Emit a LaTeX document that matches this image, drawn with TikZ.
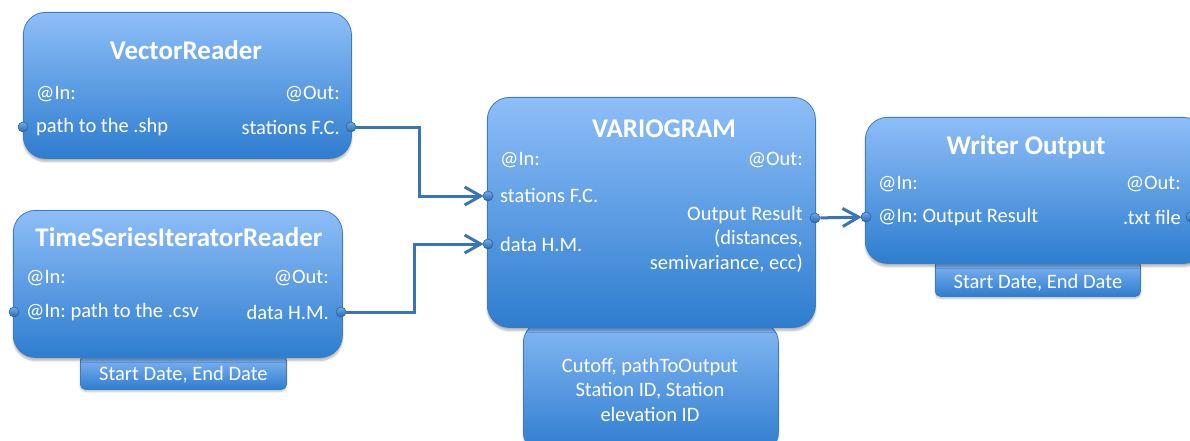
\documentclass[tikz,border=0pt]{standalone}
\usepackage{fontspec}
\setmainfont{Carlito}
\frenchspacing
\usetikzlibrary{arrows.meta,calc,shadows.blur}

\definecolor{boxtop}{HTML}{8EBEF8}
\definecolor{boxbot}{HTML}{2E7DCF}
\definecolor{boxline}{HTML}{3A7CC2}
\definecolor{wire}{HTML}{3874B6}

\tikzset{
  block/.style={draw=boxline, line width=0.8pt, top color=boxtop, bottom color=boxbot,
    rounded corners=22pt, inner sep=0pt, anchor=north west,
    blur shadow={shadow xshift=0pt, shadow yshift=-3pt, shadow blur steps=6, shadow opacity=30}},
  parambox/.style={draw=boxline, line width=0.8pt, top color=boxtop!90!boxbot, bottom color=boxbot,
    rounded corners=5pt, inner sep=0pt, anchor=north west,
    blur shadow={shadow xshift=0pt, shadow yshift=-2pt, shadow blur steps=4, shadow opacity=25}},
  title/.style={text=white, font=\fontsize{27}{30}\selectfont\bfseries, inner sep=0pt},
  lbl/.style={text=white, font=\fontsize{20.5}{24.5}\selectfont, inner sep=0pt},
  port/.style={circle, minimum size=10pt, inner sep=0pt, draw=boxline!80!black, line width=0.6pt,
    top color=boxtop!70!boxbot, bottom color=boxbot!85!black},
  conn/.style={draw=wire, line width=3pt, rounded corners=0pt},
  arr/.style={conn, -{Straight Barb[length=16pt,width=18pt,line width=3pt]}, shorten >=-1pt}
}

\begin{document}
\begin{tikzpicture}[x=1pt,y=-1pt]
\useasboundingbox (0,0) rectangle (1190,441);
\clip (0,0) rectangle (1190,441);

% parameter boxes sit underneath their blocks
\node[parambox, minimum width=206pt, minimum height=34pt] (tsp) at (80,355) {};
\node[lbl] at ($(tsp.center)+(0,2)$) {Start Date, End Date};
\node[parambox, rounded corners=20pt, minimum width=255pt, minimum height=130pt] (vgp) at (523,322) {};
\node[lbl, align=center, anchor=north] at (650,358) {Cutoff, pathToOutput\\Station ID, Station\\elevation ID};
\node[parambox, minimum width=205pt, minimum height=36pt] (wop) at (935,260) {};
\node[lbl] at ($(wop.center)+(0,4)$) {Start Date, End Date};

% VectorReader
\node[block, minimum width=328pt, minimum height=146pt] (vr) at (23,12) {};
\node[title] at (186,50) {VectorReader};
\node[lbl, anchor=west] at (36,94) {@In:};
\node[lbl, anchor=east] at (340,94) {@Out:};
\node[lbl, anchor=west] at (36,127) {path to the .shp};
\node[lbl, anchor=east] at (340,127) {stations F.C.};
\node[port] (vr-in) at (23,127) {};
\node[port] (vr-out) at (351,127) {};

% TimeSeriesIteratorReader
\node[block, minimum width=329pt, minimum height=147pt] (ts) at (13,210) {};
\node[title] at (179,237) {TimeSeriesIteratorReader};
\node[lbl, anchor=west] at (26,278) {@In:};
\node[lbl, anchor=east] at (329,278) {@Out:};
\node[lbl, anchor=west] at (26,312) {@In: path to the .csv};
\node[lbl, anchor=east] at (329,312) {data H.M.};
\node[port] (ts-in) at (14,312) {};
\node[port] (ts-out) at (341,312) {};

% VARIOGRAM
\node[block, minimum width=328pt, minimum height=230pt] (vg) at (487,97) {};
\node[title] at (664,129) {VARIOGRAM};
\node[lbl, anchor=west] at (500,160) {@In:};
\node[lbl, anchor=east] at (803,160) {@Out:};
\node[lbl, anchor=west] at (500,195) {stations F.C.};
\node[lbl, anchor=west] at (500,244) {data H.M.};
\node[lbl, anchor=north east, align=right] at (803,206) {Output Result\\(distances,\\semivariance, ecc)};
\node[port] (vg-in1) at (488,196) {};
\node[port] (vg-in2) at (488,244) {};
\node[port] (vg-out) at (815,218) {};

% Writer Output
\node[block, minimum width=340pt, minimum height=146pt] (wo) at (865,117) {};
\node[title] at (1026,147) {Writer Output};
\node[lbl, anchor=west] at (878,184) {@In:};
\node[lbl, anchor=east] at (1181,184) {@Out:};
\node[lbl, anchor=west] at (878,217) {@In: Output Result};
\node[lbl, anchor=east] at (1181,217) {.txt file};
\node[port] (wo-in) at (866,217) {};
\node[port] (wo-out) at (1191,217) {};

% wiring
\draw[arr] (vr-out) -| ($(vr-out)!.5!(vg-in1)$) |- (vg-in1);
\draw[arr] (ts-out) -| ($(ts-out)!.5!(vg-in2)$) |- (vg-in2);
\draw[arr] (vg-out) -- (wo-in);
\end{tikzpicture}
\end{document}
